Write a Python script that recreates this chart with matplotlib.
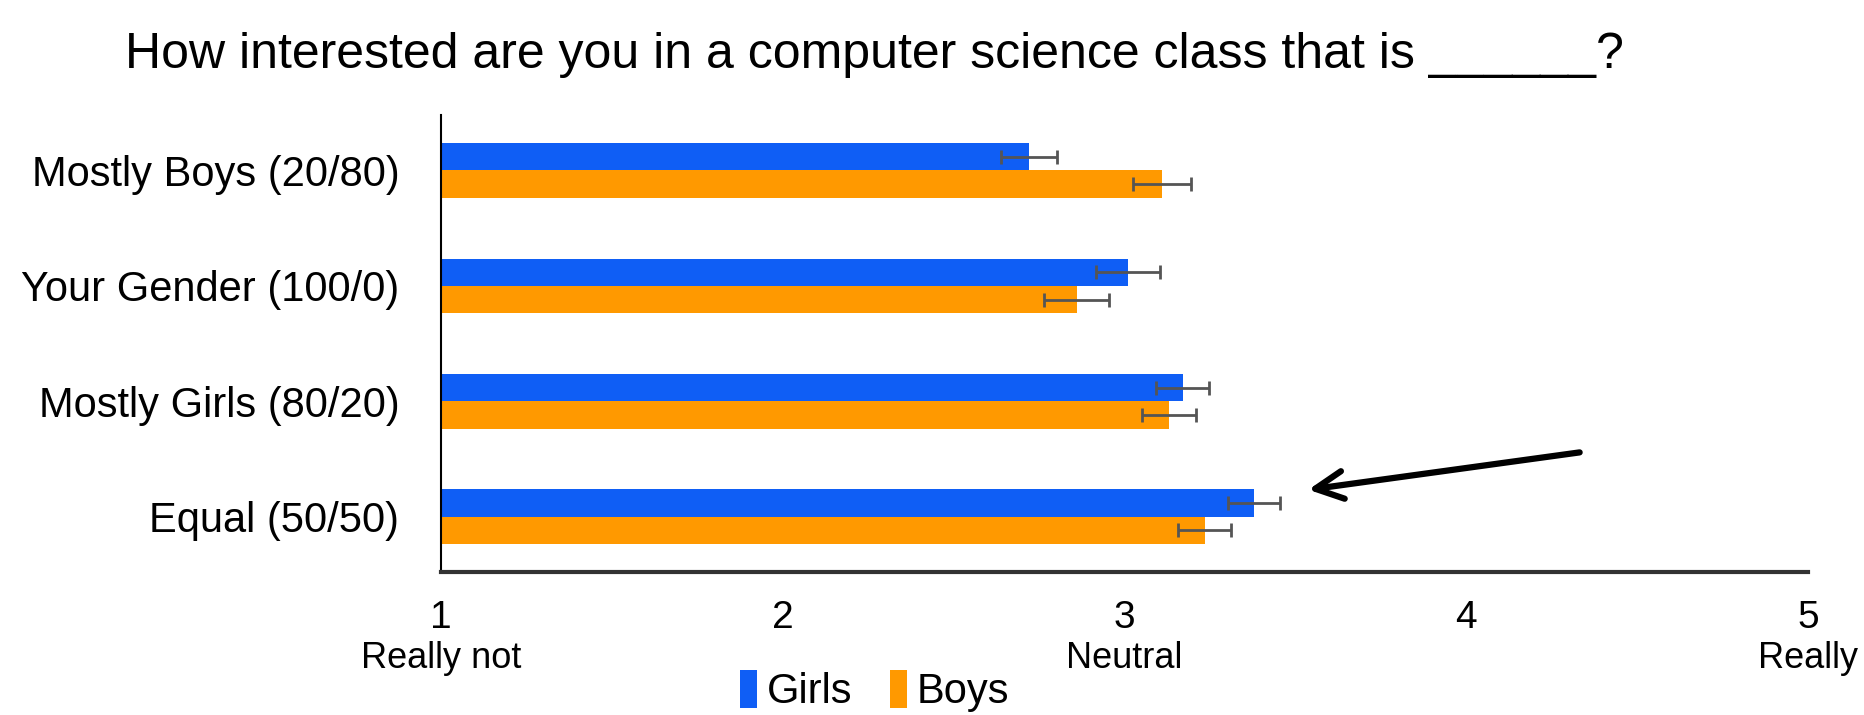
import matplotlib.pyplot as plt
import numpy as np

plt.rcParams['font.family'] = ['Liberation Sans', 'DejaVu Sans']

# survey data
categories = ['Mostly Boys (20/80)', 'Your Gender (100/0)', 'Mostly Girls (80/20)', 'Equal (50/50)']
girls = [2.72, 3.01, 3.17, 3.38]
boys = [3.11, 2.86, 3.13, 3.235]
girls_err = [0.082, 0.093, 0.077, 0.076]
boys_err = [0.085, 0.096, 0.080, 0.077]
x_ticks = [1, 2, 3, 4, 5]
scale_labels = {1: 'Really not', 3: 'Neutral', 5: 'Really'}

blue = '#0f5ef5'
orange = '#ff9900'

fig = plt.figure(figsize=(18.65, 7.15), dpi=100)
ax = fig.add_axes([0.2365, 0.2, 0.7329, 0.639])

y = np.arange(len(categories))
h = 0.237
err_kw = dict(ecolor='#555555', elinewidth=2, capsize=5, capthick=2)
ax.barh(y - h/2, np.array(girls) - 1, h, left=1, color=blue, xerr=girls_err, error_kw=err_kw, label='Girls')
ax.barh(y + h/2, np.array(boys) - 1, h, left=1, color=orange, xerr=boys_err, error_kw=err_kw, label='Boys')

ax.set_xlim(1, 5)
ax.set_ylim(3.48, -0.48)
ax.set_yticks(y)
ax.set_yticklabels(categories, fontsize=30)
ax.set_xticks(x_ticks)
ax.set_xticklabels([str(t) for t in x_ticks], fontsize=28)
ax.tick_params(axis='both', length=0)
ax.tick_params(axis='y', pad=30)
ax.tick_params(axis='x', pad=20)

for s in ['top', 'right']:
    ax.spines[s].set_visible(False)
ax.spines['left'].set_linewidth(1.5)
ax.spines['left'].set_color('black')
ax.spines['bottom'].set_linewidth(3)
ax.spines['bottom'].set_color('#333333')

# scale descriptions under the tick numbers
for xv, txt in scale_labels.items():
    ax.text(xv, -0.19, txt, transform=ax.get_xaxis_transform(), ha='center', va='center', fontsize=26, clip_on=False)

fig.suptitle('How interested are you in a computer science class that is ______?', x=0.469, y=0.955, fontsize=36)

ax.legend(loc='center', bbox_to_anchor=(0.469, 0.033), bbox_transform=fig.transFigure, ncol=2, frameon=False,
          fontsize=30, handlelength=0.4, handleheight=1.0, handletextpad=0.25, columnspacing=0.9)

# arrow pointing at the Equal girls bar
ax.annotate('', xy=(3.53, 2.77), xytext=(4.34, 2.44),
            arrowprops=dict(arrowstyle='->', lw=4.5, color='black', mutation_scale=50))

plt.savefig('out.png', dpi=100)
